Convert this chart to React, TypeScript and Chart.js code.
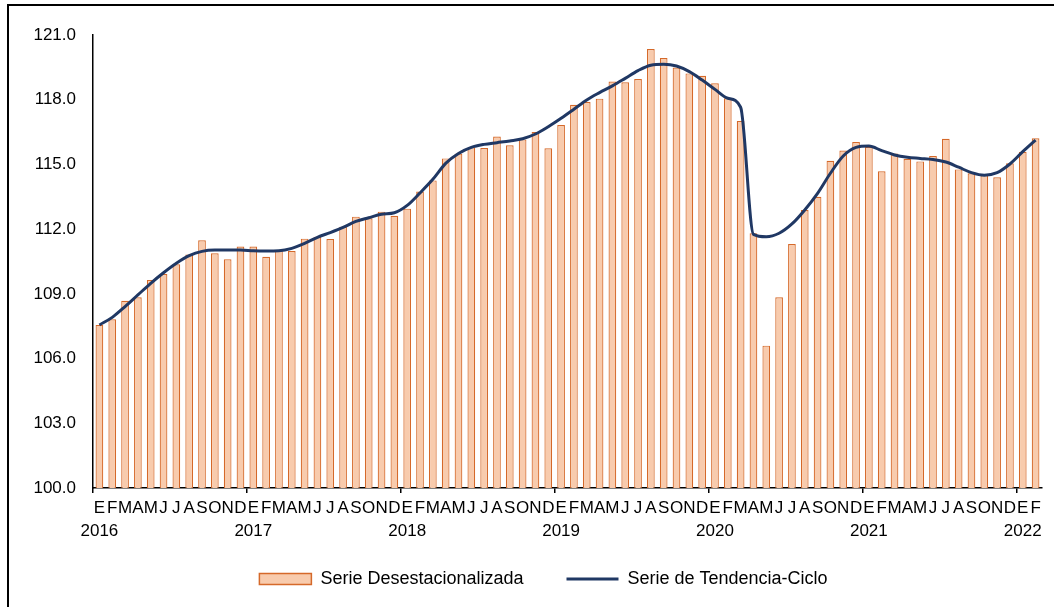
import React, { useEffect, useRef } from "react";
import { Chart, registerables } from "chart.js";

Chart.register(...registerables);

const MONTHS = ["E", "F", "M", "A", "M", "J", "J", "A", "S", "O", "N", "D"];
const YEARS = ["2016", "2017", "2018", "2019", "2020", "2021", "2022"];

const SERIE_DESESTACIONALIZADA = [
  107.56, 107.82, 108.68, 108.84, 109.64, 109.92, 110.37, 110.82, 111.48, 110.88, 110.6, 111.19,
  111.19, 110.72, 111.03, 110.99, 111.56, 111.65, 111.54, 112.11, 112.58, 112.5, 112.81, 112.62,
  112.95, 113.74, 114.26, 115.28, 115.5, 115.79, 115.76, 116.29, 115.89, 116.16, 116.5, 115.75,
  116.83, 117.77, 117.89, 118.05, 118.84, 118.81, 118.96, 120.35, 119.93, 119.49, 119.22, 119.11,
  118.76, 118.07, 117.01, 111.81, 106.6, 108.84, 111.31, 112.89, 113.5, 115.17, 115.64, 116.04,
  115.82, 114.68, 115.51, 115.25, 115.14, 115.39, 116.19, 114.77, 114.59, 114.51, 114.4, 115.05,
  115.58, 116.21,
];

const SERIE_TENDENCIA_CICLO = [
  107.56, 107.91, 108.41, 108.95, 109.49, 109.98, 110.42, 110.77, 110.97, 111.03, 111.03, 111.03,
  111.0, 110.99, 111.0, 111.11, 111.34, 111.62, 111.84, 112.08, 112.36, 112.53, 112.69, 112.76,
  113.1, 113.68, 114.31, 115.05, 115.51, 115.79, 115.93, 116.01, 116.09, 116.19, 116.41, 116.75,
  117.14, 117.56, 117.99, 118.33, 118.64, 118.99, 119.35, 119.6, 119.64, 119.56, 119.3, 118.91,
  118.48, 118.07, 117.65, 111.76, 111.65, 111.81, 112.24, 112.89, 113.66, 114.59, 115.39, 115.79,
  115.85, 115.64, 115.44, 115.33, 115.28, 115.23, 115.11, 114.87, 114.62, 114.5, 114.62, 115.02,
  115.59, 116.13,
];

const Y_MIN = 100;
const Y_MAX = 121;
const Y_STEP = 3;

const LABEL_BAR = "Serie Desestacionalizada";
const LABEL_LINE = "Serie de Tendencia-Ciclo";

const BAR_FILL = "#F8CBAD";
const BAR_EDGE = "#D5692A";
const LINE_COLOR = "#203864";

const W = 1054;
const H = 607;

function buildLabels(): (string | string[])[] {
  return SERIE_DESESTACIONALIZADA.map((_, i) => {
    const m = i % 12;
    const y = Math.floor(i / 12);
    return m === 0 ? [MONTHS[m], YEARS[y]] : MONTHS[m];
  });
}

// moves the legend box to its place below the axis labels
const legendPlace = {
  id: "legendPlace",
  afterLayout(chart: any) {
    const lg = chart.legend;
    if (!lg) return;
    const dx = 17.5;
    lg.top = 527;
    lg.bottom = H;
    lg.height = H - 527;
    lg.left += dx;
    lg.right += dx;
  },
};

export default function App() {
  const ref = useRef<HTMLCanvasElement | null>(null);

  useEffect(() => {
    if (!ref.current) return;
    Chart.defaults.font.family = "'Liberation Sans', Arial, sans-serif";
    Chart.defaults.color = "#000";
    const chart = new Chart(ref.current, {
      data: {
        labels: buildLabels(),
        datasets: [
          {
            type: "bar",
            label: LABEL_BAR,
            data: SERIE_DESESTACIONALIZADA,
            backgroundColor: BAR_FILL,
            borderColor: BAR_EDGE,
            borderWidth: 1.2,
            base: Y_MIN,
            barPercentage: 0.6,
            categoryPercentage: 1.0,
            order: 2,
          } as any,
          {
            type: "line",
            label: LABEL_LINE,
            data: SERIE_TENDENCIA_CICLO,
            borderColor: LINE_COLOR,
            backgroundColor: LINE_COLOR,
            borderWidth: 3,
            pointRadius: 0,
            cubicInterpolationMode: "monotone",
            order: 1,
          } as any,
        ],
      },
      plugins: [legendPlace],
      options: {
        responsive: false,
        animation: false,
        layout: { padding: { top: 35, left: 10, right: 12, bottom: 0 } },
        plugins: {
          tooltip: { enabled: false },
          legend: {
            position: "bottom",
            maxHeight: 56,
            labels: {
              usePointStyle: true,
              pointStyleWidth: 52,
              boxHeight: 11,
              padding: 43,
              font: { size: 18 },
              color: "#000",
              generateLabels: (c: any) => {
                const items = (Chart.defaults.plugins.legend.labels as any).generateLabels(c);
                items.forEach((it: any) => {
                  if (it.datasetIndex === 0) {
                    it.pointStyle = "rect";
                    it.fillStyle = BAR_FILL;
                    it.strokeStyle = BAR_EDGE;
                    it.lineWidth = 1.5;
                  } else {
                    it.pointStyle = "line";
                    it.strokeStyle = LINE_COLOR;
                    it.lineWidth = 3;
                  }
                });
                return items.sort((a: any, b: any) => a.datasetIndex - b.datasetIndex);
              },
            },
          },
        },
        scales: {
          x: {
            type: "category",
            offset: true,
            afterFit: (s: any) => {
              s.height = 63;
            },
            grid: {
              display: true,
              drawOnChartArea: false,
              drawTicks: true,
              tickLength: 5,
              offset: true,
              lineWidth: 1.5,
              color: (ctx: any) =>
                typeof ctx.index === "number" && ctx.index % 12 === 0 ? "#000" : "rgba(0,0,0,0)",
            },
            border: { display: true, color: "#000", width: 1.5 },
            ticks: {
              autoSkip: false,
              maxRotation: 0,
              minRotation: 0,
              padding: 4.5,
              color: "#000",
              font: { size: 17, lineHeight: 1.32 },
            },
          },
          y: {
            type: "linear",
            min: Y_MIN,
            max: Y_MAX,
            afterFit: (s: any) => {
              s.width = 83;
            },
            grid: { display: false, drawTicks: false },
            border: { display: true, color: "#000", width: 1.5 },
            ticks: {
              stepSize: Y_STEP,
              padding: 17,
              color: "#000",
              font: { size: 17 },
              callback: (v: any) => Number(v).toFixed(1),
            },
          },
        },
      } as any,
    });
    return () => chart.destroy();
  }, []);

  return (
    <div
      style={{
        position: "absolute",
        left: 0,
        top: 0,
        width: W,
        height: H,
        overflow: "hidden",
        background: "#fff",
      }}
    >
      <div
        style={{
          position: "absolute",
          left: 7,
          top: 4,
          width: W + 20,
          height: H + 20,
          borderLeft: "2px solid #000",
          borderTop: "2px solid #000",
        }}
      />
      <canvas ref={ref} width={W} height={H} style={{ position: "absolute", left: 0, top: 0 }} />
    </div>
  );
}
